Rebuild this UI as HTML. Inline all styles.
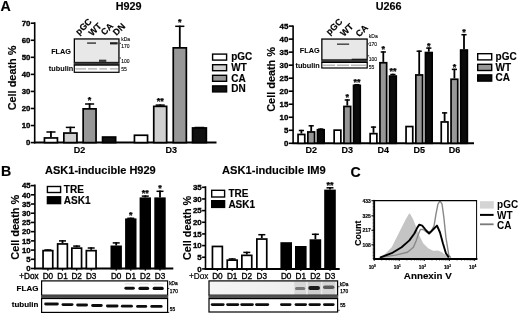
<!DOCTYPE html>
<html><head><meta charset="utf-8"><style>
html,body{margin:0;padding:0;background:#fff;overflow:hidden;}
svg{display:block;font-family:'Liberation Sans', Arial, Helvetica, sans-serif;}
text{paint-order:stroke;}
</style></head><body>
<svg width="520" height="315" viewBox="0 0 520 315">
<defs><filter id="bl" x="-20%" y="-50%" width="140%" height="200%"><feGaussianBlur stdDeviation="0.45"/></filter>
<linearGradient id="gim9" x1="0" x2="1" y1="0" y2="0"><stop offset="0" stop-color="#f4f4f4"/><stop offset="0.55" stop-color="#efefef"/><stop offset="1" stop-color="#e6e6e6"/></linearGradient></defs>
<rect width="520" height="315" fill="#fff"/>
<text x="0.50" y="10.70" font-size="14.2" font-weight="bold" text-anchor="start" fill="#000" stroke="#000" stroke-width="0.15" >A</text>
<text x="128.60" y="10.30" font-size="10.8" font-weight="bold" text-anchor="middle" fill="#000" stroke="#000" stroke-width="0.15" >H929</text>
<line x1="34.70" y1="22.20" x2="34.70" y2="143.40" stroke="#000" stroke-width="1.6" />
<line x1="30.80" y1="142.60" x2="34.70" y2="142.60" stroke="#000" stroke-width="1.6" />
<text x="30.40" y="145.39" font-size="7.8" font-weight="bold" text-anchor="end" fill="#000" stroke="#000" stroke-width="0.35" >0</text>
<line x1="30.80" y1="125.54" x2="34.70" y2="125.54" stroke="#000" stroke-width="1.6" />
<text x="30.40" y="128.34" font-size="7.8" font-weight="bold" text-anchor="end" fill="#000" stroke="#000" stroke-width="0.35" >10</text>
<line x1="30.80" y1="108.49" x2="34.70" y2="108.49" stroke="#000" stroke-width="1.6" />
<text x="30.40" y="111.28" font-size="7.8" font-weight="bold" text-anchor="end" fill="#000" stroke="#000" stroke-width="0.35" >20</text>
<line x1="30.80" y1="91.43" x2="34.70" y2="91.43" stroke="#000" stroke-width="1.6" />
<text x="30.40" y="94.22" font-size="7.8" font-weight="bold" text-anchor="end" fill="#000" stroke="#000" stroke-width="0.35" >30</text>
<line x1="30.80" y1="74.37" x2="34.70" y2="74.37" stroke="#000" stroke-width="1.6" />
<text x="30.40" y="77.16" font-size="7.8" font-weight="bold" text-anchor="end" fill="#000" stroke="#000" stroke-width="0.35" >40</text>
<line x1="30.80" y1="57.31" x2="34.70" y2="57.31" stroke="#000" stroke-width="1.6" />
<text x="30.40" y="60.11" font-size="7.8" font-weight="bold" text-anchor="end" fill="#000" stroke="#000" stroke-width="0.35" >50</text>
<line x1="30.80" y1="40.26" x2="34.70" y2="40.26" stroke="#000" stroke-width="1.6" />
<text x="30.40" y="43.05" font-size="7.8" font-weight="bold" text-anchor="end" fill="#000" stroke="#000" stroke-width="0.35" >60</text>
<line x1="30.80" y1="23.20" x2="34.70" y2="23.20" stroke="#000" stroke-width="1.6" />
<text x="30.40" y="25.99" font-size="7.8" font-weight="bold" text-anchor="end" fill="#000" stroke="#000" stroke-width="0.35" >70</text>
<line x1="33.90" y1="142.60" x2="216.50" y2="142.60" stroke="#000" stroke-width="2.0" />
<text x="0" y="0" font-size="10.9" font-weight="bold" text-anchor="middle" fill="#000" stroke="#000" stroke-width="0.15" transform="translate(15.70,77.95) rotate(-90)" >Cell death %</text>
<rect x="44.45" y="137.95" width="13.00" height="4.65" fill="#fff" stroke="#000" stroke-width="1.7" />
<line x1="50.95" y1="137.10" x2="50.95" y2="131.30" stroke="#000" stroke-width="1.8" />
<line x1="46.39" y1="132.00" x2="55.51" y2="132.00" stroke="#000" stroke-width="1.5" />
<rect x="63.85" y="133.05" width="13.10" height="9.55" fill="#d0d0d0" stroke="#000" stroke-width="1.7" />
<line x1="70.40" y1="132.20" x2="70.40" y2="126.70" stroke="#000" stroke-width="1.8" />
<line x1="65.81" y1="127.40" x2="74.99" y2="127.40" stroke="#000" stroke-width="1.5" />
<rect x="83.15" y="108.85" width="12.90" height="33.75" fill="#979797" stroke="#000" stroke-width="1.7" />
<line x1="89.60" y1="108.00" x2="89.60" y2="103.30" stroke="#000" stroke-width="1.8" />
<line x1="85.07" y1="104.00" x2="94.13" y2="104.00" stroke="#000" stroke-width="1.5" />
<text x="89.60" y="103.20" font-size="9" font-weight="bold" text-anchor="middle" fill="#000" stroke="#000" stroke-width="0.25" >*</text>
<rect x="102.55" y="137.05" width="13.10" height="5.55" fill="#111" stroke="#000" stroke-width="1.7" />
<rect x="134.45" y="135.25" width="13.10" height="7.35" fill="#fff" stroke="#000" stroke-width="1.7" />
<rect x="153.75" y="106.35" width="12.90" height="36.25" fill="#d0d0d0" stroke="#000" stroke-width="1.7" />
<line x1="160.20" y1="105.50" x2="160.20" y2="104.40" stroke="#000" stroke-width="1.8" />
<line x1="155.67" y1="105.10" x2="164.73" y2="105.10" stroke="#000" stroke-width="1.5" />
<text x="160.20" y="104.30" font-size="9" font-weight="bold" text-anchor="middle" fill="#000" stroke="#000" stroke-width="0.25" >**</text>
<rect x="173.25" y="47.85" width="13.10" height="94.75" fill="#979797" stroke="#000" stroke-width="1.7" />
<line x1="179.80" y1="47.00" x2="179.80" y2="25.60" stroke="#000" stroke-width="1.8" />
<line x1="175.21" y1="26.30" x2="184.39" y2="26.30" stroke="#000" stroke-width="1.5" />
<text x="179.80" y="24.90" font-size="9" font-weight="bold" text-anchor="middle" fill="#000" stroke="#000" stroke-width="0.25" >*</text>
<rect x="192.55" y="127.95" width="13.80" height="14.65" fill="#111" stroke="#000" stroke-width="1.7" />
<line x1="194.64" y1="127.50" x2="204.25" y2="127.50" stroke="#000" stroke-width="1.5" />
<text x="79.50" y="152.70" font-size="9" font-weight="bold" text-anchor="middle" fill="#000" stroke="#000" stroke-width="0.15" >D2</text>
<text x="171.20" y="152.90" font-size="9" font-weight="bold" text-anchor="middle" fill="#000" stroke="#000" stroke-width="0.15" >D3</text>
<rect x="212.60" y="54.10" width="14.00" height="6.00" fill="#fff" stroke="#000" stroke-width="1.4" />
<text x="231.20" y="60.30" font-size="10" font-weight="bold" text-anchor="start" fill="#000" stroke="#000" stroke-width="0.15" >pGC</text>
<rect x="212.60" y="64.70" width="14.00" height="6.00" fill="#d0d0d0" stroke="#000" stroke-width="1.4" />
<text x="231.20" y="70.90" font-size="10" font-weight="bold" text-anchor="start" fill="#000" stroke="#000" stroke-width="0.15" >WT</text>
<rect x="212.60" y="75.30" width="14.00" height="6.00" fill="#979797" stroke="#000" stroke-width="1.4" />
<text x="231.20" y="81.50" font-size="10" font-weight="bold" text-anchor="start" fill="#000" stroke="#000" stroke-width="0.15" >CA</text>
<rect x="212.60" y="85.90" width="14.00" height="6.00" fill="#111" stroke="#000" stroke-width="1.4" />
<text x="231.20" y="92.10" font-size="10" font-weight="bold" text-anchor="start" fill="#000" stroke="#000" stroke-width="0.15" >DN</text>
<rect x="74.35" y="38.95" width="44.60" height="23.55" fill="#e8e8e8" stroke="#000" stroke-width="1.3" />
<rect x="73.70" y="62.50" width="45.90" height="2.60" fill="#3c3c3c" stroke="none" stroke-width="0" />
<rect x="74.30" y="65.10" width="44.70" height="7.20" fill="#fbfbfb" stroke="#000" stroke-width="1.2" />
<rect x="87.10" y="42.30" width="8.90" height="1.60" fill="#4a4a4a" stroke="none" stroke-width="0" />
<rect x="110.00" y="42.20" width="7.70" height="2.20" fill="#1e1e1e" stroke="none" stroke-width="0" />
<rect x="99.00" y="59.70" width="7.30" height="1.20" fill="#222" stroke="none" stroke-width="0" />
<rect x="99.00" y="61.20" width="7.30" height="1.20" fill="#222" stroke="none" stroke-width="0" />
<rect x="75.50" y="68.40" width="10.50" height="1.00" fill="#9a9a9a" stroke="none" stroke-width="0" />
<rect x="88.00" y="68.40" width="9.00" height="1.00" fill="#9a9a9a" stroke="none" stroke-width="0" />
<rect x="99.50" y="68.40" width="7.50" height="1.00" fill="#9a9a9a" stroke="none" stroke-width="0" />
<rect x="110.00" y="68.40" width="8.00" height="1.00" fill="#9a9a9a" stroke="none" stroke-width="0" />
<text x="71.00" y="53.50" font-size="7.3" font-weight="bold" text-anchor="end" fill="#000" stroke="#000" stroke-width="0.05" >FLAG</text>
<text x="73.20" y="70.50" font-size="7.3" font-weight="bold" text-anchor="end" fill="#000" stroke="#000" stroke-width="0.05" >tubulin</text>
<text x="0" y="0" font-size="9.0" font-weight="bold" text-anchor="start" fill="#000" stroke="#000" stroke-width="0.15" transform="translate(79.00,35.50) rotate(-45)" >pGC</text>
<text x="0" y="0" font-size="9.0" font-weight="bold" text-anchor="start" fill="#000" stroke="#000" stroke-width="0.15" transform="translate(92.20,36.60) rotate(-45)" >WT</text>
<text x="0" y="0" font-size="9.0" font-weight="bold" text-anchor="start" fill="#000" stroke="#000" stroke-width="0.15" transform="translate(104.60,35.80) rotate(-45)" >CA</text>
<text x="0" y="0" font-size="9.0" font-weight="bold" text-anchor="start" fill="#000" stroke="#000" stroke-width="0.15" transform="translate(116.60,36.10) rotate(-45)" >DN</text>
<text x="121.20" y="41.00" font-size="5.0" font-weight="normal" text-anchor="start" fill="#000" stroke="#000" stroke-width="0.1" >kDa</text>
<text x="121.20" y="48.40" font-size="5.0" font-weight="normal" text-anchor="start" fill="#000" stroke="#000" stroke-width="0.1" >170</text>
<text x="121.20" y="63.00" font-size="5.0" font-weight="normal" text-anchor="start" fill="#000" stroke="#000" stroke-width="0.1" >100</text>
<text x="121.20" y="71.00" font-size="5.0" font-weight="normal" text-anchor="start" fill="#000" stroke="#000" stroke-width="0.1" >55</text>
<line x1="119.60" y1="43.30" x2="121.00" y2="43.30" stroke="#000" stroke-width="0.8" />
<line x1="119.60" y1="58.00" x2="121.00" y2="58.00" stroke="#000" stroke-width="0.8" />
<text x="388.60" y="10.30" font-size="10.8" font-weight="bold" text-anchor="middle" fill="#000" stroke="#000" stroke-width="0.15" >U266</text>
<line x1="293.10" y1="25.40" x2="293.10" y2="144.10" stroke="#000" stroke-width="1.6" />
<line x1="288.80" y1="143.30" x2="293.10" y2="143.30" stroke="#000" stroke-width="1.6" />
<text x="288.40" y="146.13" font-size="7.9" font-weight="bold" text-anchor="end" fill="#000" stroke="#000" stroke-width="0.35" >0</text>
<line x1="288.80" y1="130.28" x2="293.10" y2="130.28" stroke="#000" stroke-width="1.6" />
<text x="288.40" y="133.11" font-size="7.9" font-weight="bold" text-anchor="end" fill="#000" stroke="#000" stroke-width="0.35" >5</text>
<line x1="288.80" y1="117.26" x2="293.10" y2="117.26" stroke="#000" stroke-width="1.6" />
<text x="288.40" y="120.08" font-size="7.9" font-weight="bold" text-anchor="end" fill="#000" stroke="#000" stroke-width="0.35" >10</text>
<line x1="288.80" y1="104.23" x2="293.10" y2="104.23" stroke="#000" stroke-width="1.6" />
<text x="288.40" y="107.06" font-size="7.9" font-weight="bold" text-anchor="end" fill="#000" stroke="#000" stroke-width="0.35" >15</text>
<line x1="288.80" y1="91.21" x2="293.10" y2="91.21" stroke="#000" stroke-width="1.6" />
<text x="288.40" y="94.04" font-size="7.9" font-weight="bold" text-anchor="end" fill="#000" stroke="#000" stroke-width="0.35" >20</text>
<line x1="288.80" y1="78.19" x2="293.10" y2="78.19" stroke="#000" stroke-width="1.6" />
<text x="288.40" y="81.02" font-size="7.9" font-weight="bold" text-anchor="end" fill="#000" stroke="#000" stroke-width="0.35" >25</text>
<line x1="288.80" y1="65.17" x2="293.10" y2="65.17" stroke="#000" stroke-width="1.6" />
<text x="288.40" y="67.99" font-size="7.9" font-weight="bold" text-anchor="end" fill="#000" stroke="#000" stroke-width="0.35" >30</text>
<line x1="288.80" y1="52.14" x2="293.10" y2="52.14" stroke="#000" stroke-width="1.6" />
<text x="288.40" y="54.97" font-size="7.9" font-weight="bold" text-anchor="end" fill="#000" stroke="#000" stroke-width="0.35" >35</text>
<line x1="288.80" y1="39.12" x2="293.10" y2="39.12" stroke="#000" stroke-width="1.6" />
<text x="288.40" y="41.95" font-size="7.9" font-weight="bold" text-anchor="end" fill="#000" stroke="#000" stroke-width="0.35" >40</text>
<line x1="288.80" y1="26.10" x2="293.10" y2="26.10" stroke="#000" stroke-width="1.6" />
<text x="288.40" y="28.93" font-size="7.9" font-weight="bold" text-anchor="end" fill="#000" stroke="#000" stroke-width="0.35" >45</text>
<line x1="292.40" y1="143.30" x2="474.00" y2="143.30" stroke="#000" stroke-width="2.0" />
<text x="0" y="0" font-size="10.9" font-weight="bold" text-anchor="middle" fill="#000" stroke="#000" stroke-width="0.15" transform="translate(274.80,79.40) rotate(-90)" >Cell death %</text>
<rect x="298.05" y="134.45" width="6.70" height="8.85" fill="#fff" stroke="#000" stroke-width="1.7" />
<line x1="301.40" y1="133.60" x2="301.40" y2="129.80" stroke="#000" stroke-width="1.8" />
<line x1="298.80" y1="130.50" x2="304.00" y2="130.50" stroke="#000" stroke-width="1.5" />
<rect x="307.85" y="131.95" width="6.70" height="11.35" fill="#979797" stroke="#000" stroke-width="1.7" />
<line x1="311.20" y1="131.10" x2="311.20" y2="125.10" stroke="#000" stroke-width="1.8" />
<line x1="308.60" y1="125.80" x2="313.80" y2="125.80" stroke="#000" stroke-width="1.5" />
<rect x="317.45" y="129.75" width="6.70" height="13.55" fill="#0a0a0a" stroke="#000" stroke-width="1.7" />
<line x1="320.80" y1="128.90" x2="320.80" y2="128.40" stroke="#000" stroke-width="1.8" />
<line x1="318.20" y1="129.10" x2="323.40" y2="129.10" stroke="#000" stroke-width="1.5" />
<rect x="334.15" y="130.15" width="6.70" height="13.15" fill="#fff" stroke="#000" stroke-width="1.7" />
<rect x="343.95" y="106.45" width="6.70" height="36.85" fill="#979797" stroke="#000" stroke-width="1.7" />
<line x1="347.30" y1="105.60" x2="347.30" y2="99.30" stroke="#000" stroke-width="1.8" />
<line x1="344.70" y1="100.00" x2="349.90" y2="100.00" stroke="#000" stroke-width="1.5" />
<text x="347.30" y="99.50" font-size="9" font-weight="bold" text-anchor="middle" fill="#000" stroke="#000" stroke-width="0.25" >*</text>
<rect x="353.55" y="85.35" width="6.70" height="57.95" fill="#0a0a0a" stroke="#000" stroke-width="1.7" />
<line x1="356.90" y1="84.50" x2="356.90" y2="84.00" stroke="#000" stroke-width="1.8" />
<line x1="354.30" y1="84.70" x2="359.50" y2="84.70" stroke="#000" stroke-width="1.5" />
<text x="356.90" y="84.70" font-size="9" font-weight="bold" text-anchor="middle" fill="#000" stroke="#000" stroke-width="0.25" >**</text>
<rect x="370.15" y="133.65" width="6.70" height="9.65" fill="#fff" stroke="#000" stroke-width="1.7" />
<line x1="373.50" y1="132.80" x2="373.50" y2="126.40" stroke="#000" stroke-width="1.8" />
<line x1="370.90" y1="127.10" x2="376.10" y2="127.10" stroke="#000" stroke-width="1.5" />
<rect x="379.95" y="62.75" width="6.70" height="80.55" fill="#979797" stroke="#000" stroke-width="1.7" />
<line x1="383.30" y1="61.90" x2="383.30" y2="51.30" stroke="#000" stroke-width="1.8" />
<line x1="380.70" y1="52.00" x2="385.90" y2="52.00" stroke="#000" stroke-width="1.5" />
<text x="383.30" y="51.90" font-size="9" font-weight="bold" text-anchor="middle" fill="#000" stroke="#000" stroke-width="0.25" >*</text>
<rect x="389.55" y="76.05" width="6.70" height="67.25" fill="#0a0a0a" stroke="#000" stroke-width="1.7" />
<line x1="392.90" y1="75.20" x2="392.90" y2="73.80" stroke="#000" stroke-width="1.8" />
<line x1="390.30" y1="74.50" x2="395.50" y2="74.50" stroke="#000" stroke-width="1.5" />
<text x="392.90" y="74.10" font-size="9" font-weight="bold" text-anchor="middle" fill="#000" stroke="#000" stroke-width="0.25" >**</text>
<rect x="406.05" y="126.55" width="6.70" height="16.75" fill="#fff" stroke="#000" stroke-width="1.7" />
<rect x="415.85" y="74.95" width="6.70" height="68.35" fill="#979797" stroke="#000" stroke-width="1.7" />
<line x1="419.20" y1="74.10" x2="419.20" y2="50.50" stroke="#000" stroke-width="1.8" />
<line x1="416.60" y1="51.20" x2="421.80" y2="51.20" stroke="#000" stroke-width="1.5" />
<rect x="425.45" y="52.55" width="6.70" height="90.75" fill="#0a0a0a" stroke="#000" stroke-width="1.7" />
<line x1="428.80" y1="51.70" x2="428.80" y2="47.40" stroke="#000" stroke-width="1.8" />
<line x1="426.20" y1="48.10" x2="431.40" y2="48.10" stroke="#000" stroke-width="1.5" />
<text x="428.80" y="48.60" font-size="9" font-weight="bold" text-anchor="middle" fill="#000" stroke="#000" stroke-width="0.25" >*</text>
<rect x="441.25" y="121.95" width="6.70" height="21.35" fill="#fff" stroke="#000" stroke-width="1.7" />
<line x1="444.60" y1="121.10" x2="444.60" y2="112.20" stroke="#000" stroke-width="1.8" />
<line x1="442.00" y1="112.90" x2="447.20" y2="112.90" stroke="#000" stroke-width="1.5" />
<rect x="451.05" y="79.25" width="6.70" height="64.05" fill="#979797" stroke="#000" stroke-width="1.7" />
<line x1="454.40" y1="78.40" x2="454.40" y2="68.70" stroke="#000" stroke-width="1.8" />
<line x1="451.80" y1="69.40" x2="457.00" y2="69.40" stroke="#000" stroke-width="1.5" />
<text x="454.40" y="70.20" font-size="9" font-weight="bold" text-anchor="middle" fill="#000" stroke="#000" stroke-width="0.25" >*</text>
<rect x="460.65" y="50.05" width="6.70" height="93.25" fill="#0a0a0a" stroke="#000" stroke-width="1.7" />
<line x1="464.00" y1="49.20" x2="464.00" y2="34.00" stroke="#000" stroke-width="1.8" />
<line x1="461.40" y1="34.70" x2="466.60" y2="34.70" stroke="#000" stroke-width="1.5" />
<text x="464.00" y="35.20" font-size="9" font-weight="bold" text-anchor="middle" fill="#000" stroke="#000" stroke-width="0.25" >*</text>
<text x="311.20" y="152.90" font-size="9" font-weight="bold" text-anchor="middle" fill="#000" stroke="#000" stroke-width="0.15" >D2</text>
<text x="347.30" y="152.90" font-size="9" font-weight="bold" text-anchor="middle" fill="#000" stroke="#000" stroke-width="0.15" >D3</text>
<text x="383.30" y="152.90" font-size="9" font-weight="bold" text-anchor="middle" fill="#000" stroke="#000" stroke-width="0.15" >D4</text>
<text x="419.20" y="152.90" font-size="9" font-weight="bold" text-anchor="middle" fill="#000" stroke="#000" stroke-width="0.15" >D5</text>
<text x="454.40" y="152.90" font-size="9" font-weight="bold" text-anchor="middle" fill="#000" stroke="#000" stroke-width="0.15" >D6</text>
<rect x="477.70" y="53.70" width="14.00" height="6.20" fill="#fff" stroke="#000" stroke-width="1.4" />
<text x="495.60" y="59.90" font-size="10" font-weight="bold" text-anchor="start" fill="#000" stroke="#000" stroke-width="0.15" >pGC</text>
<rect x="477.70" y="64.30" width="14.00" height="6.20" fill="#979797" stroke="#000" stroke-width="1.4" />
<text x="495.60" y="70.50" font-size="10" font-weight="bold" text-anchor="start" fill="#000" stroke="#000" stroke-width="0.15" >WT</text>
<rect x="477.70" y="74.90" width="14.00" height="6.20" fill="#0a0a0a" stroke="#000" stroke-width="1.4" />
<text x="495.60" y="81.10" font-size="10" font-weight="bold" text-anchor="start" fill="#000" stroke="#000" stroke-width="0.15" >CA</text>
<rect x="321.85" y="39.05" width="45.30" height="20.95" fill="#e8e8e8" stroke="#000" stroke-width="1.3" />
<rect x="321.20" y="60.00" width="46.60" height="2.40" fill="#3c3c3c" stroke="none" stroke-width="0" />
<rect x="321.80" y="62.40" width="45.40" height="5.60" fill="#fbfbfb" stroke="#000" stroke-width="1.2" />
<rect x="337.00" y="43.45" width="12.10" height="1.50" fill="#4a4a4a" stroke="none" stroke-width="0" />
<rect x="351.70" y="58.70" width="15.30" height="1.40" fill="#1a1a1a" stroke="none" stroke-width="0" />
<rect x="323.00" y="64.70" width="12.00" height="1.00" fill="#9a9a9a" stroke="none" stroke-width="0" />
<rect x="337.00" y="64.70" width="12.00" height="1.00" fill="#9a9a9a" stroke="none" stroke-width="0" />
<rect x="351.00" y="64.70" width="15.00" height="1.00" fill="#9a9a9a" stroke="none" stroke-width="0" />
<text x="319.60" y="52.50" font-size="7.3" font-weight="bold" text-anchor="end" fill="#000" stroke="#000" stroke-width="0.05" >FLAG</text>
<text x="319.80" y="67.60" font-size="7.3" font-weight="bold" text-anchor="end" fill="#000" stroke="#000" stroke-width="0.05" >tubulin</text>
<text x="0" y="0" font-size="9.0" font-weight="bold" text-anchor="start" fill="#000" stroke="#000" stroke-width="0.15" transform="translate(329.60,35.60) rotate(-45)" >pGC</text>
<text x="0" y="0" font-size="9.0" font-weight="bold" text-anchor="start" fill="#000" stroke="#000" stroke-width="0.15" transform="translate(344.00,37.00) rotate(-45)" >WT</text>
<text x="0" y="0" font-size="9.0" font-weight="bold" text-anchor="start" fill="#000" stroke="#000" stroke-width="0.15" transform="translate(359.30,37.60) rotate(-45)" >CA</text>
<text x="368.80" y="38.30" font-size="5.0" font-weight="normal" text-anchor="start" fill="#000" stroke="#000" stroke-width="0.1" >kDa</text>
<text x="368.80" y="45.70" font-size="5.0" font-weight="normal" text-anchor="start" fill="#000" stroke="#000" stroke-width="0.1" >170</text>
<text x="368.80" y="60.60" font-size="5.0" font-weight="normal" text-anchor="start" fill="#000" stroke="#000" stroke-width="0.1" >100</text>
<text x="368.80" y="68.60" font-size="5.0" font-weight="normal" text-anchor="start" fill="#000" stroke="#000" stroke-width="0.1" >55</text>
<line x1="367.80" y1="43.90" x2="369.20" y2="43.90" stroke="#000" stroke-width="0.8" />
<line x1="367.80" y1="55.80" x2="369.20" y2="55.80" stroke="#000" stroke-width="0.8" />
<text x="1.10" y="176.30" font-size="14.2" font-weight="bold" text-anchor="start" fill="#000" stroke="#000" stroke-width="0.15" >B</text>
<text x="100.40" y="173.90" font-size="11" font-weight="bold" text-anchor="middle" fill="#000" stroke="#000" stroke-width="0.15" >ASK1-inducible H929</text>
<line x1="34.90" y1="184.40" x2="34.90" y2="269.30" stroke="#000" stroke-width="1.6" />
<line x1="31.00" y1="268.50" x2="34.90" y2="268.50" stroke="#000" stroke-width="1.6" />
<text x="30.60" y="271.29" font-size="7.8" font-weight="bold" text-anchor="end" fill="#000" stroke="#000" stroke-width="0.35" >0</text>
<line x1="31.00" y1="259.29" x2="34.90" y2="259.29" stroke="#000" stroke-width="1.6" />
<text x="30.60" y="262.08" font-size="7.8" font-weight="bold" text-anchor="end" fill="#000" stroke="#000" stroke-width="0.35" >5</text>
<line x1="31.00" y1="250.08" x2="34.90" y2="250.08" stroke="#000" stroke-width="1.6" />
<text x="30.60" y="252.87" font-size="7.8" font-weight="bold" text-anchor="end" fill="#000" stroke="#000" stroke-width="0.35" >10</text>
<line x1="31.00" y1="240.87" x2="34.90" y2="240.87" stroke="#000" stroke-width="1.6" />
<text x="30.60" y="243.66" font-size="7.8" font-weight="bold" text-anchor="end" fill="#000" stroke="#000" stroke-width="0.35" >15</text>
<line x1="31.00" y1="231.66" x2="34.90" y2="231.66" stroke="#000" stroke-width="1.6" />
<text x="30.60" y="234.45" font-size="7.8" font-weight="bold" text-anchor="end" fill="#000" stroke="#000" stroke-width="0.35" >20</text>
<line x1="31.00" y1="222.44" x2="34.90" y2="222.44" stroke="#000" stroke-width="1.6" />
<text x="30.60" y="225.24" font-size="7.8" font-weight="bold" text-anchor="end" fill="#000" stroke="#000" stroke-width="0.35" >25</text>
<line x1="31.00" y1="213.23" x2="34.90" y2="213.23" stroke="#000" stroke-width="1.6" />
<text x="30.60" y="216.03" font-size="7.8" font-weight="bold" text-anchor="end" fill="#000" stroke="#000" stroke-width="0.35" >30</text>
<line x1="31.00" y1="204.02" x2="34.90" y2="204.02" stroke="#000" stroke-width="1.6" />
<text x="30.60" y="206.81" font-size="7.8" font-weight="bold" text-anchor="end" fill="#000" stroke="#000" stroke-width="0.35" >35</text>
<line x1="31.00" y1="194.81" x2="34.90" y2="194.81" stroke="#000" stroke-width="1.6" />
<text x="30.60" y="197.60" font-size="7.8" font-weight="bold" text-anchor="end" fill="#000" stroke="#000" stroke-width="0.35" >40</text>
<line x1="31.00" y1="185.60" x2="34.90" y2="185.60" stroke="#000" stroke-width="1.6" />
<text x="30.60" y="188.39" font-size="7.8" font-weight="bold" text-anchor="end" fill="#000" stroke="#000" stroke-width="0.35" >45</text>
<line x1="34.20" y1="268.50" x2="173.30" y2="268.50" stroke="#000" stroke-width="2.0" />
<text x="0" y="0" font-size="10.9" font-weight="bold" text-anchor="middle" fill="#000" stroke="#000" stroke-width="0.15" transform="translate(18.50,227.25) rotate(-90)" >Cell death %</text>
<rect x="43.05" y="250.65" width="9.70" height="17.85" fill="#fff" stroke="#000" stroke-width="1.7" />
<line x1="47.90" y1="249.80" x2="47.90" y2="249.30" stroke="#000" stroke-width="1.8" />
<line x1="44.40" y1="250.00" x2="51.40" y2="250.00" stroke="#000" stroke-width="1.5" />
<rect x="57.65" y="243.95" width="9.70" height="24.55" fill="#fff" stroke="#000" stroke-width="1.7" />
<line x1="62.50" y1="243.10" x2="62.50" y2="240.20" stroke="#000" stroke-width="1.8" />
<line x1="59.00" y1="240.90" x2="66.00" y2="240.90" stroke="#000" stroke-width="1.5" />
<rect x="71.85" y="248.15" width="9.70" height="20.35" fill="#fff" stroke="#000" stroke-width="1.7" />
<line x1="76.70" y1="247.30" x2="76.70" y2="245.40" stroke="#000" stroke-width="1.8" />
<line x1="73.20" y1="246.10" x2="80.20" y2="246.10" stroke="#000" stroke-width="1.5" />
<rect x="86.35" y="250.65" width="9.70" height="17.85" fill="#fff" stroke="#000" stroke-width="1.7" />
<line x1="91.20" y1="249.80" x2="91.20" y2="247.30" stroke="#000" stroke-width="1.8" />
<line x1="87.70" y1="248.00" x2="94.70" y2="248.00" stroke="#000" stroke-width="1.5" />
<rect x="111.35" y="246.35" width="9.70" height="22.15" fill="#000" stroke="#000" stroke-width="1.7" />
<line x1="116.20" y1="245.50" x2="116.20" y2="242.20" stroke="#000" stroke-width="1.8" />
<line x1="112.70" y1="242.90" x2="119.70" y2="242.90" stroke="#000" stroke-width="1.5" />
<rect x="125.95" y="219.25" width="9.70" height="49.25" fill="#000" stroke="#000" stroke-width="1.7" />
<line x1="130.80" y1="218.40" x2="130.80" y2="217.60" stroke="#000" stroke-width="1.8" />
<line x1="127.30" y1="218.30" x2="134.30" y2="218.30" stroke="#000" stroke-width="1.5" />
<text x="130.80" y="217.80" font-size="9" font-weight="bold" text-anchor="middle" fill="#000" stroke="#000" stroke-width="0.25" >*</text>
<rect x="140.45" y="198.25" width="9.70" height="70.25" fill="#000" stroke="#000" stroke-width="1.7" />
<line x1="145.30" y1="197.40" x2="145.30" y2="195.40" stroke="#000" stroke-width="1.8" />
<line x1="141.80" y1="196.10" x2="148.80" y2="196.10" stroke="#000" stroke-width="1.5" />
<text x="145.30" y="196.20" font-size="9" font-weight="bold" text-anchor="middle" fill="#000" stroke="#000" stroke-width="0.25" >**</text>
<rect x="155.15" y="198.25" width="9.70" height="70.25" fill="#000" stroke="#000" stroke-width="1.7" />
<line x1="160.00" y1="197.40" x2="160.00" y2="190.60" stroke="#000" stroke-width="1.8" />
<line x1="156.50" y1="191.30" x2="163.50" y2="191.30" stroke="#000" stroke-width="1.5" />
<text x="160.00" y="190.50" font-size="9" font-weight="bold" text-anchor="middle" fill="#000" stroke="#000" stroke-width="0.25" >*</text>
<line x1="47.90" y1="268.50" x2="47.90" y2="270.70" stroke="#000" stroke-width="1.2" />
<text x="47.90" y="278.80" font-size="8.2" font-weight="normal" text-anchor="middle" fill="#000" stroke="#000" stroke-width="0.35" >D0</text>
<line x1="62.50" y1="268.50" x2="62.50" y2="270.70" stroke="#000" stroke-width="1.2" />
<text x="62.50" y="278.80" font-size="8.2" font-weight="normal" text-anchor="middle" fill="#000" stroke="#000" stroke-width="0.35" >D1</text>
<line x1="76.70" y1="268.50" x2="76.70" y2="270.70" stroke="#000" stroke-width="1.2" />
<text x="76.70" y="278.80" font-size="8.2" font-weight="normal" text-anchor="middle" fill="#000" stroke="#000" stroke-width="0.35" >D2</text>
<line x1="91.20" y1="268.50" x2="91.20" y2="270.70" stroke="#000" stroke-width="1.2" />
<text x="91.20" y="278.80" font-size="8.2" font-weight="normal" text-anchor="middle" fill="#000" stroke="#000" stroke-width="0.35" >D3</text>
<line x1="116.20" y1="268.50" x2="116.20" y2="270.70" stroke="#000" stroke-width="1.2" />
<text x="116.20" y="278.80" font-size="8.2" font-weight="normal" text-anchor="middle" fill="#000" stroke="#000" stroke-width="0.35" >D0</text>
<line x1="130.80" y1="268.50" x2="130.80" y2="270.70" stroke="#000" stroke-width="1.2" />
<text x="130.80" y="278.80" font-size="8.2" font-weight="normal" text-anchor="middle" fill="#000" stroke="#000" stroke-width="0.35" >D1</text>
<line x1="145.30" y1="268.50" x2="145.30" y2="270.70" stroke="#000" stroke-width="1.2" />
<text x="145.30" y="278.80" font-size="8.2" font-weight="normal" text-anchor="middle" fill="#000" stroke="#000" stroke-width="0.35" >D2</text>
<line x1="160.00" y1="268.50" x2="160.00" y2="270.70" stroke="#000" stroke-width="1.2" />
<text x="160.00" y="278.80" font-size="8.2" font-weight="normal" text-anchor="middle" fill="#000" stroke="#000" stroke-width="0.35" >D3</text>
<text x="38.60" y="278.80" font-size="8.2" font-weight="normal" text-anchor="end" fill="#000" stroke="#000" stroke-width="0.35" >+Dox</text>
<rect x="47.40" y="186.50" width="13.20" height="6.00" fill="#fff" stroke="#000" stroke-width="1.4" />
<rect x="47.40" y="196.80" width="13.20" height="6.80" fill="#000" stroke="#000" stroke-width="1.4" />
<text x="63.80" y="192.80" font-size="10" font-weight="bold" text-anchor="start" fill="#000" stroke="#000" stroke-width="0.15" >TRE</text>
<text x="63.80" y="203.60" font-size="10" font-weight="bold" text-anchor="start" fill="#000" stroke="#000" stroke-width="0.15" >ASK1</text>
<rect x="41.60" y="280.90" width="126.00" height="14.30" fill="#fff" stroke="none" stroke-width="0" />
<rect x="41.60" y="280.90" width="126.00" height="14.30" fill="none" stroke="#000" stroke-width="1.2" />
<rect x="41.00" y="295.20" width="127.20" height="2.70" fill="#4a4a4a" stroke="none" stroke-width="0" />
<rect x="41.60" y="298.50" width="126.00" height="13.90" fill="#fff" stroke="#000" stroke-width="1.2" />
<g filter="url(#bl)">
<rect x="124.40" y="283.20" width="10.40" height="1.20" fill="#e4e4e4" stroke="none" stroke-width="0" rx="0.60"/>
<rect x="138.40" y="283.20" width="10.80" height="1.20" fill="#e4e4e4" stroke="none" stroke-width="0" rx="0.60"/>
<rect x="152.60" y="283.20" width="11.20" height="1.20" fill="#e8e8e8" stroke="none" stroke-width="0" rx="0.60"/>
<rect x="124.40" y="286.85" width="10.40" height="2.90" fill="#111" stroke="none" stroke-width="0" rx="1.45"/>
<rect x="138.40" y="286.75" width="10.80" height="3.30" fill="#0a0a0a" stroke="none" stroke-width="0" rx="1.65"/>
<rect x="152.60" y="286.85" width="11.20" height="3.10" fill="#111" stroke="none" stroke-width="0" rx="1.55"/>
<rect x="44.20" y="302.60" width="14.60" height="2.80" fill="#111" stroke="none" stroke-width="0" rx="1.40"/>
<rect x="61.50" y="303.20" width="12.00" height="2.80" fill="#111" stroke="none" stroke-width="0" rx="1.40"/>
<rect x="76.20" y="303.60" width="11.80" height="2.80" fill="#111" stroke="none" stroke-width="0" rx="1.40"/>
<rect x="91.20" y="304.10" width="11.50" height="2.80" fill="#111" stroke="none" stroke-width="0" rx="1.40"/>
<rect x="106.00" y="304.60" width="12.50" height="2.80" fill="#111" stroke="none" stroke-width="0" rx="1.40"/>
<rect x="120.90" y="304.80" width="12.00" height="2.80" fill="#111" stroke="none" stroke-width="0" rx="1.40"/>
<rect x="136.10" y="305.00" width="11.10" height="2.80" fill="#111" stroke="none" stroke-width="0" rx="1.40"/>
<rect x="150.30" y="305.00" width="12.30" height="2.80" fill="#111" stroke="none" stroke-width="0" rx="1.40"/>
</g>
<text x="38.40" y="290.70" font-size="8.0" font-weight="bold" text-anchor="end" fill="#000" stroke="#000" stroke-width="0.15" >FLAG</text>
<text x="38.40" y="307.00" font-size="8.0" font-weight="bold" text-anchor="end" fill="#000" stroke="#000" stroke-width="0.15" >tubulin</text>
<text x="169.20" y="285.30" font-size="4.8" font-weight="normal" text-anchor="start" fill="#000" stroke="#000" stroke-width="0.25" >kDa</text>
<text x="169.80" y="292.80" font-size="4.8" font-weight="normal" text-anchor="start" fill="#000" stroke="#000" stroke-width="0.25" >170</text>
<text x="169.80" y="311.20" font-size="4.8" font-weight="normal" text-anchor="start" fill="#000" stroke="#000" stroke-width="0.25" >55</text>
<line x1="167.60" y1="288.50" x2="169.20" y2="288.50" stroke="#000" stroke-width="0.8" />
<line x1="167.60" y1="312.40" x2="169.20" y2="312.40" stroke="#000" stroke-width="0.8" />
<text x="273.90" y="174.00" font-size="11.1" font-weight="bold" text-anchor="middle" fill="#000" stroke="#000" stroke-width="0.15" >ASK1-inducible IM9</text>
<line x1="205.50" y1="186.20" x2="205.50" y2="269.70" stroke="#000" stroke-width="1.6" />
<line x1="202.10" y1="268.90" x2="205.50" y2="268.90" stroke="#000" stroke-width="1.6" />
<text x="201.70" y="271.73" font-size="7.9" font-weight="bold" text-anchor="end" fill="#000" stroke="#000" stroke-width="0.35" >0</text>
<line x1="202.10" y1="257.24" x2="205.50" y2="257.24" stroke="#000" stroke-width="1.6" />
<text x="201.70" y="260.07" font-size="7.9" font-weight="bold" text-anchor="end" fill="#000" stroke="#000" stroke-width="0.35" >5</text>
<line x1="202.10" y1="245.59" x2="205.50" y2="245.59" stroke="#000" stroke-width="1.6" />
<text x="201.70" y="248.41" font-size="7.9" font-weight="bold" text-anchor="end" fill="#000" stroke="#000" stroke-width="0.35" >10</text>
<line x1="202.10" y1="233.93" x2="205.50" y2="233.93" stroke="#000" stroke-width="1.6" />
<text x="201.70" y="236.76" font-size="7.9" font-weight="bold" text-anchor="end" fill="#000" stroke="#000" stroke-width="0.35" >15</text>
<line x1="202.10" y1="222.27" x2="205.50" y2="222.27" stroke="#000" stroke-width="1.6" />
<text x="201.70" y="225.10" font-size="7.9" font-weight="bold" text-anchor="end" fill="#000" stroke="#000" stroke-width="0.35" >20</text>
<line x1="202.10" y1="210.61" x2="205.50" y2="210.61" stroke="#000" stroke-width="1.6" />
<text x="201.70" y="213.44" font-size="7.9" font-weight="bold" text-anchor="end" fill="#000" stroke="#000" stroke-width="0.35" >25</text>
<line x1="202.10" y1="198.96" x2="205.50" y2="198.96" stroke="#000" stroke-width="1.6" />
<text x="201.70" y="201.79" font-size="7.9" font-weight="bold" text-anchor="end" fill="#000" stroke="#000" stroke-width="0.35" >30</text>
<line x1="202.10" y1="187.30" x2="205.50" y2="187.30" stroke="#000" stroke-width="1.6" />
<text x="201.70" y="190.13" font-size="7.9" font-weight="bold" text-anchor="end" fill="#000" stroke="#000" stroke-width="0.35" >35</text>
<line x1="204.80" y1="268.90" x2="339.70" y2="268.90" stroke="#000" stroke-width="2.0" />
<text x="0" y="0" font-size="10.8" font-weight="bold" text-anchor="middle" fill="#000" stroke="#000" stroke-width="0.15" transform="translate(190.90,227.90) rotate(-90)" >Cell death %</text>
<rect x="212.45" y="246.45" width="9.90" height="22.45" fill="#fff" stroke="#000" stroke-width="1.7" />
<rect x="227.25" y="260.15" width="9.90" height="8.75" fill="#fff" stroke="#000" stroke-width="1.7" />
<line x1="232.20" y1="259.30" x2="232.20" y2="258.30" stroke="#000" stroke-width="1.8" />
<line x1="228.70" y1="259.00" x2="235.70" y2="259.00" stroke="#000" stroke-width="1.5" />
<rect x="241.85" y="255.35" width="9.90" height="13.55" fill="#fff" stroke="#000" stroke-width="1.7" />
<line x1="246.80" y1="254.50" x2="246.80" y2="251.70" stroke="#000" stroke-width="1.8" />
<line x1="243.30" y1="252.40" x2="250.30" y2="252.40" stroke="#000" stroke-width="1.5" />
<rect x="256.85" y="239.05" width="9.90" height="29.85" fill="#fff" stroke="#000" stroke-width="1.7" />
<line x1="261.80" y1="238.20" x2="261.80" y2="234.00" stroke="#000" stroke-width="1.8" />
<line x1="258.30" y1="234.70" x2="265.30" y2="234.70" stroke="#000" stroke-width="1.5" />
<rect x="281.25" y="243.05" width="9.90" height="25.85" fill="#000" stroke="#000" stroke-width="1.7" />
<rect x="295.85" y="246.85" width="9.90" height="22.05" fill="#000" stroke="#000" stroke-width="1.7" />
<rect x="310.45" y="240.15" width="9.90" height="28.75" fill="#000" stroke="#000" stroke-width="1.7" />
<line x1="315.40" y1="239.30" x2="315.40" y2="233.60" stroke="#000" stroke-width="1.8" />
<line x1="311.90" y1="234.30" x2="318.90" y2="234.30" stroke="#000" stroke-width="1.5" />
<rect x="325.05" y="190.45" width="9.90" height="78.45" fill="#000" stroke="#000" stroke-width="1.7" />
<line x1="330.00" y1="189.60" x2="330.00" y2="187.10" stroke="#000" stroke-width="1.8" />
<line x1="326.50" y1="187.80" x2="333.50" y2="187.80" stroke="#000" stroke-width="1.5" />
<text x="330.00" y="187.70" font-size="9" font-weight="bold" text-anchor="middle" fill="#000" stroke="#000" stroke-width="0.25" >**</text>
<line x1="217.40" y1="268.90" x2="217.40" y2="271.10" stroke="#000" stroke-width="1.2" />
<text x="217.40" y="279.00" font-size="8.2" font-weight="normal" text-anchor="middle" fill="#000" stroke="#000" stroke-width="0.35" >D0</text>
<line x1="232.20" y1="268.90" x2="232.20" y2="271.10" stroke="#000" stroke-width="1.2" />
<text x="232.20" y="279.00" font-size="8.2" font-weight="normal" text-anchor="middle" fill="#000" stroke="#000" stroke-width="0.35" >D1</text>
<line x1="246.80" y1="268.90" x2="246.80" y2="271.10" stroke="#000" stroke-width="1.2" />
<text x="246.80" y="279.00" font-size="8.2" font-weight="normal" text-anchor="middle" fill="#000" stroke="#000" stroke-width="0.35" >D2</text>
<line x1="261.80" y1="268.90" x2="261.80" y2="271.10" stroke="#000" stroke-width="1.2" />
<text x="261.80" y="279.00" font-size="8.2" font-weight="normal" text-anchor="middle" fill="#000" stroke="#000" stroke-width="0.35" >D3</text>
<line x1="286.20" y1="268.90" x2="286.20" y2="271.10" stroke="#000" stroke-width="1.2" />
<text x="286.20" y="279.00" font-size="8.2" font-weight="normal" text-anchor="middle" fill="#000" stroke="#000" stroke-width="0.35" >D0</text>
<line x1="300.80" y1="268.90" x2="300.80" y2="271.10" stroke="#000" stroke-width="1.2" />
<text x="300.80" y="279.00" font-size="8.2" font-weight="normal" text-anchor="middle" fill="#000" stroke="#000" stroke-width="0.35" >D1</text>
<line x1="315.40" y1="268.90" x2="315.40" y2="271.10" stroke="#000" stroke-width="1.2" />
<text x="315.40" y="279.00" font-size="8.2" font-weight="normal" text-anchor="middle" fill="#000" stroke="#000" stroke-width="0.35" >D2</text>
<line x1="330.00" y1="268.90" x2="330.00" y2="271.10" stroke="#000" stroke-width="1.2" />
<text x="330.00" y="279.00" font-size="8.2" font-weight="normal" text-anchor="middle" fill="#000" stroke="#000" stroke-width="0.35" >D3</text>
<text x="208.40" y="279.00" font-size="8.2" font-weight="normal" text-anchor="end" fill="#000" stroke="#000" stroke-width="0.2" >+Dox</text>
<rect x="211.70" y="190.30" width="12.90" height="6.70" fill="#fff" stroke="#000" stroke-width="1.4" />
<rect x="211.70" y="200.70" width="12.90" height="6.70" fill="#000" stroke="#000" stroke-width="1.4" />
<text x="228.40" y="197.00" font-size="10" font-weight="bold" text-anchor="start" fill="#000" stroke="#000" stroke-width="0.15" >TRE</text>
<text x="228.40" y="208.00" font-size="10" font-weight="bold" text-anchor="start" fill="#000" stroke="#000" stroke-width="0.15" >ASK1</text>
<rect x="209.00" y="280.90" width="128.60" height="14.30" fill="url(#gim9)" stroke="none" stroke-width="0" />
<rect x="294.40" y="281.50" width="11.60" height="13.50" fill="#d6d6d6" stroke="none" stroke-width="0" filter="url(#bl)"/>
<rect x="307.80" y="281.50" width="13.00" height="13.50" fill="#cecece" stroke="none" stroke-width="0" filter="url(#bl)"/>
<rect x="322.40" y="281.50" width="12.60" height="13.50" fill="#d4d4d4" stroke="none" stroke-width="0" filter="url(#bl)"/>
<rect x="209.00" y="280.90" width="128.60" height="14.30" fill="none" stroke="#000" stroke-width="1.2" />
<rect x="208.40" y="295.20" width="129.80" height="2.80" fill="#525252" stroke="none" stroke-width="0" />
<rect x="209.00" y="298.60" width="128.60" height="13.40" fill="#fff" stroke="#000" stroke-width="1.2" />
<g filter="url(#bl)">
<rect x="295.00" y="286.90" width="10.20" height="3.20" fill="#777" stroke="none" stroke-width="0" rx="1.60"/>
<rect x="308.30" y="285.90" width="11.70" height="4.20" fill="#1a1a1a" stroke="none" stroke-width="0" rx="2.10"/>
<rect x="323.00" y="285.50" width="11.40" height="3.60" fill="#5a5a5a" stroke="none" stroke-width="0" rx="1.80"/>
<rect x="210.80" y="303.30" width="13.80" height="2.60" fill="#111" stroke="none" stroke-width="0" rx="1.30"/>
<rect x="226.20" y="303.30" width="13.00" height="2.60" fill="#111" stroke="none" stroke-width="0" rx="1.30"/>
<rect x="240.30" y="303.30" width="13.50" height="2.60" fill="#111" stroke="none" stroke-width="0" rx="1.30"/>
<rect x="255.10" y="303.30" width="14.10" height="2.60" fill="#111" stroke="none" stroke-width="0" rx="1.30"/>
<rect x="280.00" y="303.30" width="11.50" height="2.60" fill="#111" stroke="none" stroke-width="0" rx="1.30"/>
<rect x="294.60" y="303.30" width="12.40" height="2.60" fill="#111" stroke="none" stroke-width="0" rx="1.30"/>
<rect x="308.50" y="303.30" width="12.30" height="2.60" fill="#111" stroke="none" stroke-width="0" rx="1.30"/>
<rect x="323.00" y="303.30" width="11.60" height="2.60" fill="#111" stroke="none" stroke-width="0" rx="1.30"/>
</g>
<text x="339.80" y="285.80" font-size="4.8" font-weight="normal" text-anchor="start" fill="#000" stroke="#000" stroke-width="0.25" >kDa</text>
<text x="340.20" y="293.20" font-size="4.8" font-weight="normal" text-anchor="start" fill="#000" stroke="#000" stroke-width="0.25" >170</text>
<text x="340.20" y="306.60" font-size="4.8" font-weight="normal" text-anchor="start" fill="#000" stroke="#000" stroke-width="0.25" >55</text>
<line x1="338.20" y1="286.70" x2="339.60" y2="286.70" stroke="#000" stroke-width="0.8" />
<line x1="338.20" y1="310.30" x2="339.60" y2="310.30" stroke="#000" stroke-width="0.8" />
<text x="350.50" y="176.60" font-size="14.2" font-weight="bold" text-anchor="start" fill="#000" stroke="#000" stroke-width="0.15" >C</text>
<polygon fill="#c4c4c4" points="377.9,258.0 385.0,254.0 391.7,247.3 396.6,237.4 401.6,227.6 405.5,219.7 408.5,214.5 409.8,213.2 413.4,219.7 416.3,227.6 419.3,235.4 423.2,243.3 428.2,248.2 433.1,250.8 438.0,250.6 442.0,252.2 446.9,256.1 450.8,258.0"/>
<polyline fill="none" stroke="#888" stroke-width="1.4" stroke-linejoin="round" points="381.9,257.1 395.6,255.1 407.5,252.2 413.4,247.3 416.3,240.4 418.3,234.5 420.3,229.5 423.2,229.5 427.2,232.5 431.1,231.5 434.1,225.6 436.0,213.8 438.0,203.9 440.0,201.2 442.0,203.9 443.9,217.7 445.9,237.4 448.8,255.1 450.8,257.6"/>
<polyline fill="none" stroke="#000" stroke-width="1.9" stroke-linejoin="round" points="379.9,257.6 391.7,253.2 401.6,247.3 409.4,240.4 414.4,233.5 417.3,227.6 419.3,224.6 422.2,225.6 426.2,230.5 429.1,233.5 433.1,229.5 437.0,225.6 440.0,232.5 442.9,243.3 445.9,253.2 448.8,257.6"/>
<line x1="374.20" y1="200.60" x2="477.00" y2="200.60" stroke="#000" stroke-width="1.4" />
<line x1="476.60" y1="200.00" x2="476.60" y2="258.60" stroke="#000" stroke-width="1.0" />
<line x1="374.20" y1="199.90" x2="374.20" y2="259.40" stroke="#000" stroke-width="1.8" />
<line x1="373.40" y1="258.90" x2="477.40" y2="258.90" stroke="#000" stroke-width="2.0" />
<line x1="372.60" y1="200.60" x2="374.20" y2="200.60" stroke="#000" stroke-width="0.6" />
<line x1="372.60" y1="202.04" x2="374.20" y2="202.04" stroke="#000" stroke-width="0.6" />
<line x1="372.60" y1="203.49" x2="374.20" y2="203.49" stroke="#000" stroke-width="0.6" />
<line x1="372.60" y1="204.94" x2="374.20" y2="204.94" stroke="#000" stroke-width="0.6" />
<line x1="372.60" y1="206.38" x2="374.20" y2="206.38" stroke="#000" stroke-width="0.6" />
<line x1="372.60" y1="207.82" x2="374.20" y2="207.82" stroke="#000" stroke-width="0.6" />
<line x1="372.60" y1="209.27" x2="374.20" y2="209.27" stroke="#000" stroke-width="0.6" />
<line x1="372.60" y1="210.72" x2="374.20" y2="210.72" stroke="#000" stroke-width="0.6" />
<line x1="372.60" y1="212.16" x2="374.20" y2="212.16" stroke="#000" stroke-width="0.6" />
<line x1="372.60" y1="213.60" x2="374.20" y2="213.60" stroke="#000" stroke-width="0.6" />
<line x1="372.60" y1="215.05" x2="374.20" y2="215.05" stroke="#000" stroke-width="0.6" />
<line x1="372.60" y1="216.50" x2="374.20" y2="216.50" stroke="#000" stroke-width="0.6" />
<line x1="372.60" y1="217.94" x2="374.20" y2="217.94" stroke="#000" stroke-width="0.6" />
<line x1="372.60" y1="219.38" x2="374.20" y2="219.38" stroke="#000" stroke-width="0.6" />
<line x1="372.60" y1="220.83" x2="374.20" y2="220.83" stroke="#000" stroke-width="0.6" />
<line x1="372.60" y1="222.27" x2="374.20" y2="222.27" stroke="#000" stroke-width="0.6" />
<line x1="372.60" y1="223.72" x2="374.20" y2="223.72" stroke="#000" stroke-width="0.6" />
<line x1="372.60" y1="225.16" x2="374.20" y2="225.16" stroke="#000" stroke-width="0.6" />
<line x1="372.60" y1="226.61" x2="374.20" y2="226.61" stroke="#000" stroke-width="0.6" />
<line x1="372.60" y1="228.05" x2="374.20" y2="228.05" stroke="#000" stroke-width="0.6" />
<line x1="372.60" y1="229.50" x2="374.20" y2="229.50" stroke="#000" stroke-width="0.6" />
<line x1="372.60" y1="230.94" x2="374.20" y2="230.94" stroke="#000" stroke-width="0.6" />
<line x1="372.60" y1="232.39" x2="374.20" y2="232.39" stroke="#000" stroke-width="0.6" />
<line x1="372.60" y1="233.83" x2="374.20" y2="233.83" stroke="#000" stroke-width="0.6" />
<line x1="372.60" y1="235.28" x2="374.20" y2="235.28" stroke="#000" stroke-width="0.6" />
<line x1="372.60" y1="236.72" x2="374.20" y2="236.72" stroke="#000" stroke-width="0.6" />
<line x1="372.60" y1="238.17" x2="374.20" y2="238.17" stroke="#000" stroke-width="0.6" />
<line x1="372.60" y1="239.61" x2="374.20" y2="239.61" stroke="#000" stroke-width="0.6" />
<line x1="372.60" y1="241.06" x2="374.20" y2="241.06" stroke="#000" stroke-width="0.6" />
<line x1="372.60" y1="242.50" x2="374.20" y2="242.50" stroke="#000" stroke-width="0.6" />
<line x1="372.60" y1="243.95" x2="374.20" y2="243.95" stroke="#000" stroke-width="0.6" />
<line x1="372.60" y1="245.39" x2="374.20" y2="245.39" stroke="#000" stroke-width="0.6" />
<line x1="372.60" y1="246.84" x2="374.20" y2="246.84" stroke="#000" stroke-width="0.6" />
<line x1="372.60" y1="248.28" x2="374.20" y2="248.28" stroke="#000" stroke-width="0.6" />
<line x1="372.60" y1="249.73" x2="374.20" y2="249.73" stroke="#000" stroke-width="0.6" />
<line x1="372.60" y1="251.17" x2="374.20" y2="251.17" stroke="#000" stroke-width="0.6" />
<line x1="372.60" y1="252.62" x2="374.20" y2="252.62" stroke="#000" stroke-width="0.6" />
<line x1="372.60" y1="254.06" x2="374.20" y2="254.06" stroke="#000" stroke-width="0.6" />
<line x1="372.60" y1="255.51" x2="374.20" y2="255.51" stroke="#000" stroke-width="0.6" />
<line x1="372.60" y1="256.95" x2="374.20" y2="256.95" stroke="#000" stroke-width="0.6" />
<line x1="372.60" y1="258.40" x2="374.20" y2="258.40" stroke="#000" stroke-width="0.6" />
<line x1="371.40" y1="200.70" x2="374.20" y2="200.70" stroke="#000" stroke-width="1.0" />
<text x="370.90" y="203.20" font-size="5.0" font-weight="bold" text-anchor="end" fill="#000" stroke="#000" stroke-width="0.15" >433</text>
<line x1="371.40" y1="215.80" x2="374.20" y2="215.80" stroke="#000" stroke-width="1.0" />
<text x="370.90" y="217.60" font-size="5.0" font-weight="bold" text-anchor="end" fill="#000" stroke="#000" stroke-width="0.15" >325</text>
<line x1="371.40" y1="230.30" x2="374.20" y2="230.30" stroke="#000" stroke-width="1.0" />
<text x="370.90" y="232.10" font-size="5.0" font-weight="bold" text-anchor="end" fill="#000" stroke="#000" stroke-width="0.15" >217</text>
<line x1="371.40" y1="244.80" x2="374.20" y2="244.80" stroke="#000" stroke-width="1.0" />
<text x="370.90" y="246.60" font-size="5.0" font-weight="bold" text-anchor="end" fill="#000" stroke="#000" stroke-width="0.15" >108</text>
<line x1="374.20" y1="258.90" x2="374.20" y2="261.00" stroke="#000" stroke-width="0.8" />
<line x1="381.76" y1="258.90" x2="381.76" y2="260.40" stroke="#000" stroke-width="0.8" />
<line x1="386.18" y1="258.90" x2="386.18" y2="260.40" stroke="#000" stroke-width="0.8" />
<line x1="389.31" y1="258.90" x2="389.31" y2="260.40" stroke="#000" stroke-width="0.8" />
<line x1="391.74" y1="258.90" x2="391.74" y2="260.40" stroke="#000" stroke-width="0.8" />
<line x1="393.73" y1="258.90" x2="393.73" y2="260.40" stroke="#000" stroke-width="0.8" />
<line x1="395.41" y1="258.90" x2="395.41" y2="260.40" stroke="#000" stroke-width="0.8" />
<line x1="396.87" y1="258.90" x2="396.87" y2="260.40" stroke="#000" stroke-width="0.8" />
<line x1="398.15" y1="258.90" x2="398.15" y2="260.40" stroke="#000" stroke-width="0.8" />
<line x1="399.30" y1="258.90" x2="399.30" y2="261.00" stroke="#000" stroke-width="0.8" />
<line x1="406.86" y1="258.90" x2="406.86" y2="260.40" stroke="#000" stroke-width="0.8" />
<line x1="411.28" y1="258.90" x2="411.28" y2="260.40" stroke="#000" stroke-width="0.8" />
<line x1="414.41" y1="258.90" x2="414.41" y2="260.40" stroke="#000" stroke-width="0.8" />
<line x1="416.84" y1="258.90" x2="416.84" y2="260.40" stroke="#000" stroke-width="0.8" />
<line x1="418.83" y1="258.90" x2="418.83" y2="260.40" stroke="#000" stroke-width="0.8" />
<line x1="420.51" y1="258.90" x2="420.51" y2="260.40" stroke="#000" stroke-width="0.8" />
<line x1="421.97" y1="258.90" x2="421.97" y2="260.40" stroke="#000" stroke-width="0.8" />
<line x1="423.25" y1="258.90" x2="423.25" y2="260.40" stroke="#000" stroke-width="0.8" />
<line x1="424.40" y1="258.90" x2="424.40" y2="261.00" stroke="#000" stroke-width="0.8" />
<line x1="431.96" y1="258.90" x2="431.96" y2="260.40" stroke="#000" stroke-width="0.8" />
<line x1="436.38" y1="258.90" x2="436.38" y2="260.40" stroke="#000" stroke-width="0.8" />
<line x1="439.51" y1="258.90" x2="439.51" y2="260.40" stroke="#000" stroke-width="0.8" />
<line x1="441.94" y1="258.90" x2="441.94" y2="260.40" stroke="#000" stroke-width="0.8" />
<line x1="443.93" y1="258.90" x2="443.93" y2="260.40" stroke="#000" stroke-width="0.8" />
<line x1="445.61" y1="258.90" x2="445.61" y2="260.40" stroke="#000" stroke-width="0.8" />
<line x1="447.07" y1="258.90" x2="447.07" y2="260.40" stroke="#000" stroke-width="0.8" />
<line x1="448.35" y1="258.90" x2="448.35" y2="260.40" stroke="#000" stroke-width="0.8" />
<line x1="449.50" y1="258.90" x2="449.50" y2="261.00" stroke="#000" stroke-width="0.8" />
<line x1="457.06" y1="258.90" x2="457.06" y2="260.40" stroke="#000" stroke-width="0.8" />
<line x1="461.48" y1="258.90" x2="461.48" y2="260.40" stroke="#000" stroke-width="0.8" />
<line x1="464.61" y1="258.90" x2="464.61" y2="260.40" stroke="#000" stroke-width="0.8" />
<line x1="467.04" y1="258.90" x2="467.04" y2="260.40" stroke="#000" stroke-width="0.8" />
<line x1="469.03" y1="258.90" x2="469.03" y2="260.40" stroke="#000" stroke-width="0.8" />
<line x1="470.71" y1="258.90" x2="470.71" y2="260.40" stroke="#000" stroke-width="0.8" />
<line x1="472.17" y1="258.90" x2="472.17" y2="260.40" stroke="#000" stroke-width="0.8" />
<line x1="473.45" y1="258.90" x2="473.45" y2="260.40" stroke="#000" stroke-width="0.8" />
<line x1="474.60" y1="258.90" x2="474.60" y2="261.00" stroke="#000" stroke-width="0.8" />
<text x="372.20" y="269.4" font-size="4.8" font-weight="bold" text-anchor="middle" stroke="#000" stroke-width="0.15">10<tspan font-size="3.2" dy="-2.4">0</tspan></text>
<text x="397.30" y="269.4" font-size="4.8" font-weight="bold" text-anchor="middle" stroke="#000" stroke-width="0.15">10<tspan font-size="3.2" dy="-2.4">1</tspan></text>
<text x="422.40" y="269.4" font-size="4.8" font-weight="bold" text-anchor="middle" stroke="#000" stroke-width="0.15">10<tspan font-size="3.2" dy="-2.4">2</tspan></text>
<text x="447.50" y="269.4" font-size="4.8" font-weight="bold" text-anchor="middle" stroke="#000" stroke-width="0.15">10<tspan font-size="3.2" dy="-2.4">3</tspan></text>
<text x="472.60" y="269.4" font-size="4.8" font-weight="bold" text-anchor="middle" stroke="#000" stroke-width="0.15">10<tspan font-size="3.2" dy="-2.4">4</tspan></text>
<text x="427.80" y="279.00" font-size="9.8" font-weight="bold" text-anchor="middle" fill="#000" stroke="#000" stroke-width="0.15" >Annexin V</text>
<text x="0" y="0" font-size="8.7" font-weight="bold" text-anchor="middle" fill="#000" stroke="#000" stroke-width="0.15" transform="translate(360.50,233.20) rotate(-90)" >Count</text>
<rect x="480.00" y="201.20" width="13.80" height="7.40" fill="#d4d4d4" stroke="none" stroke-width="0" />
<line x1="480.00" y1="214.90" x2="493.60" y2="214.90" stroke="#000" stroke-width="2.0" />
<line x1="480.00" y1="224.30" x2="493.60" y2="224.30" stroke="#7a7a7a" stroke-width="1.8" />
<text x="497.10" y="207.90" font-size="10" font-weight="bold" text-anchor="start" fill="#000" >pGC</text>
<text x="497.10" y="219.40" font-size="10" font-weight="bold" text-anchor="start" fill="#000" >WT</text>
<text x="497.10" y="229.00" font-size="10" font-weight="bold" text-anchor="start" fill="#000" >CA</text>
</svg></body></html>
